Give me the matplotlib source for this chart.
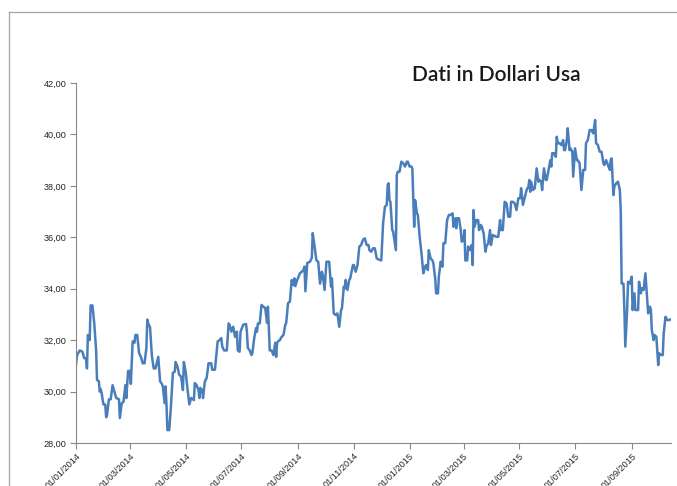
import matplotlib
matplotlib.use("Agg")
import matplotlib.pyplot as plt
import matplotlib.dates as mdates
from matplotlib.lines import Line2D
import numpy as np
import pandas as pd

start_date = "2014-01-01"
end_date = "2015-10-14"

# day offsets from 2014-01-01 and price in USD
days = [0, 1, 4, 7, 9, 11, 12, 13, 15, 16, 18, 20, 22, 23, 25, 26, 27, 28, 30, 32,
        33, 34, 36, 38, 40, 42, 44, 47, 48, 50, 52, 54, 55, 57, 59, 60, 62, 64, 65, 67,
        69, 71, 73, 75, 77, 78, 79, 81, 83, 85, 87, 89, 90, 92, 94, 95, 97, 98, 99, 100,
        102, 104, 106, 108, 109, 111, 113, 115, 117, 118, 120, 122, 124, 126, 128, 129, 130, 132, 134, 135,
        136, 138, 139, 141, 143, 145, 148, 149, 152, 155, 157, 159, 160, 162, 165, 167,
        168, 170, 172, 174, 176, 177, 179, 180, 183, 186, 187, 188, 190, 192, 193, 195, 197, 198, 199, 201,
        203, 205, 207, 209, 210, 212, 214, 216, 218, 219, 220, 221, 223, 225, 227, 229, 230, 232, 234, 236,
        238, 239, 240, 242, 245, 247, 249, 250, 251, 253, 256, 258, 259, 261, 263, 265, 267, 269, 270, 272,
        274, 277, 279, 280, 282, 284, 286, 288, 290, 291, 293, 294, 295, 297, 299, 300, 303, 304, 306, 308,
        310, 312, 314, 316, 318, 320, 321, 323, 325, 327, 329, 331, 334,
        336, 338, 340, 341, 342, 343, 344, 346, 347, 350, 351, 352, 354, 356, 358, 360, 362, 363, 365, 367,
        368, 370, 371, 373, 374, 376, 378, 380, 382, 383, 385, 386, 388, 390, 391, 393, 394, 396, 397, 399,
        401, 402, 404, 406, 408, 410, 412, 413, 415, 416, 417, 419, 421, 422, 424, 425, 426, 428, 429, 431,
        433, 434, 435, 436, 438, 440, 441, 443, 444, 446, 448, 449, 451, 453, 454, 456, 458, 460, 462, 464,
        465, 467, 469, 471, 473, 475, 476, 478, 480, 482, 484, 486, 487, 489,
        493, 495, 496, 497, 498, 500, 502, 504, 506, 507, 509, 510, 512, 514, 515, 517, 519, 520, 521, 523,
        525, 526, 527, 529, 531, 533, 534, 535, 537, 538, 540, 541, 543, 544, 546, 548, 549, 551, 553, 555,
        557, 558, 560, 562, 564, 566, 568, 569, 571, 573, 575, 577, 578, 580, 582, 584, 585, 586, 588, 589,
        591, 593, 595, 596, 597, 599, 600, 601, 603, 604, 606, 608, 609, 611, 612, 615, 616, 618, 619, 621,
        623, 624, 626, 628, 629, 630, 632, 633, 635, 637, 638, 640, 642, 643, 645, 647, 649, 650]

prices = [31.03, 31.40, 31.60, 31.55, 31.30, 31.30, 30.90, 32.20, 32.00, 33.35, 33.35, 32.65, 31.60, 30.45, 30.40, 30.00, 30.10, 29.95, 29.50, 29.50,
          29.00, 29.10, 29.70, 29.70, 30.25, 30.00, 29.75, 29.70, 28.97, 29.55, 29.60, 30.25, 29.75, 30.80, 30.80, 30.30, 31.95, 31.90, 32.20, 32.20,
          31.50, 31.35, 31.10, 31.10, 31.70, 32.80, 32.65, 32.50, 31.40, 30.90, 30.90, 31.20, 31.35, 30.40, 30.30, 30.20, 29.55, 30.20, 29.50, 28.50,
          28.50, 29.50, 30.73, 30.77, 31.15, 30.97, 30.65, 30.58, 30.06, 31.15, 30.77, 30.10, 29.50, 29.75, 29.70, 29.67, 30.33, 30.25, 30.06, 29.75,
          30.14, 30.06, 29.75, 30.40, 30.53, 31.10, 31.10, 30.85, 30.85, 31.95, 32.00, 32.08, 31.75, 31.60, 31.60, 32.65,
          32.60, 32.33, 32.52, 32.13, 32.33, 31.60, 31.55, 32.33, 32.60, 32.63, 32.33, 31.70, 31.60, 31.42, 31.50, 32.08, 32.47, 32.33, 32.65, 32.65,
          33.37, 33.30, 33.25, 32.67, 33.30, 31.60, 31.60, 31.42, 31.90, 31.35, 31.88, 31.95, 32.00, 32.13, 32.20, 32.60, 32.67, 33.44, 33.50, 34.34,
          34.14, 34.40, 34.10, 34.34, 34.60, 34.66, 34.73, 34.86, 33.90, 35.00, 35.05, 35.20, 36.16, 35.65, 35.10, 35.05, 34.20, 34.66, 34.53, 33.95,
          35.05, 35.05, 34.08, 34.40, 33.04, 32.98, 33.04, 32.52, 33.17, 33.24, 34.08, 34.00, 34.34, 33.95, 34.34, 34.40, 34.92, 34.92, 34.66, 34.92,
          35.64, 35.70, 35.90, 35.96, 35.70, 35.70, 35.50, 35.44, 35.57, 35.57, 35.18, 35.14, 35.10,
          36.54, 37.19, 37.26, 38.03, 38.10, 37.45, 37.38, 36.28, 36.22, 35.50, 38.42, 38.55, 38.55, 38.94, 38.88, 38.75, 38.94, 38.94, 38.75, 38.75,
          38.68, 36.41, 37.45, 36.93, 36.87, 36.02, 35.38, 34.60, 34.86, 34.92, 34.73, 35.50, 35.18, 35.10, 34.98, 34.40, 33.82, 33.82, 34.47, 35.05,
          34.86, 35.77, 35.77, 36.67, 36.87, 36.87, 36.93, 36.41, 36.74, 36.35, 36.74, 36.74, 36.28, 35.83, 35.90, 36.28, 35.10, 35.10, 35.64, 35.50,
          35.70, 34.92, 37.06, 36.41, 36.67, 36.67, 36.28, 36.48, 36.41, 36.15, 35.44, 35.64, 35.77, 36.28, 35.70, 36.09, 36.05, 36.02, 36.02, 36.67,
          36.28, 36.28, 37.38, 37.32, 36.80, 36.80, 37.38, 37.38, 37.32, 37.06, 37.52, 37.52, 37.91, 37.26,
          37.84, 37.97, 38.23, 37.77, 38.16, 37.84, 37.91, 38.68, 38.16, 38.23, 38.16, 37.84, 38.68, 38.23, 38.23, 38.62, 39.00, 38.75, 39.27, 39.27,
          39.13, 39.91, 39.66, 39.66, 39.59, 39.78, 39.39, 39.39, 39.78, 40.24, 39.39, 39.46, 39.33, 38.36, 39.46, 39.00, 39.00, 38.88, 37.84, 38.62,
          38.62, 39.66, 39.78, 40.17, 40.17, 40.04, 40.56, 39.66, 39.59, 39.33, 39.33, 38.88, 38.81, 39.00, 38.81, 38.62, 39.00, 39.07, 37.64, 37.97,
          38.10, 38.16, 37.84, 37.06, 34.20, 34.20, 33.17, 31.75, 33.17, 34.27, 34.20, 34.47, 33.17, 33.82, 33.17, 33.17, 34.27, 33.82, 34.02, 33.95,
          34.60, 34.08, 33.04, 33.30, 33.17, 32.40, 32.00, 32.20, 32.13, 31.03, 31.49, 31.42, 31.42, 32.26, 32.91, 32.78, 32.78, 32.80]

tick_dates = ["2014-01-01", "2014-03-01", "2014-05-01", "2014-07-01", "2014-09-01", "2014-11-01",
              "2015-01-01", "2015-03-01", "2015-05-01", "2015-07-01", "2015-09-01"]
y_ticks = [28, 30, 32, 34, 36, 38, 40, 42]
title = "Dati in Dollari Usa"

dates = pd.Timestamp(start_date) + pd.to_timedelta(days, unit="D")

fig = plt.figure(figsize=(6.77, 4.86), dpi=100)
ax = fig.add_axes([76 / 677, 43 / 486, 595 / 677, 360 / 486])

ax.plot(dates, prices, color="#4A7EBB", linewidth=1.8, solid_joinstyle="round")

ax.set_xlim(pd.Timestamp(start_date), pd.Timestamp(end_date))
ax.set_ylim(28, 42)

ax.set_yticks(y_ticks)
ax.set_yticklabels([f"{v:.2f}".replace(".", ",") for v in y_ticks],
                   fontsize=6.6, family="Liberation Sans")
tds = pd.to_datetime(tick_dates)
ax.set_xticks(tds)
ax.set_xticklabels([d.strftime("%d/%m/%Y") for d in tds], rotation=45, ha="right",
                   rotation_mode="anchor", fontsize=6.6, family="Liberation Sans")

for s in ["top", "right"]:
    ax.spines[s].set_visible(False)
for s in ["left", "bottom"]:
    ax.spines[s].set_color("#888888")
    ax.spines[s].set_linewidth(0.8)
ax.tick_params(axis="both", colors="#888888", length=4, width=0.8, labelcolor="#262626")
ax.tick_params(axis="y", pad=3)
ax.tick_params(axis="x", pad=2)

fig.text(496 / 677, 1 - 75 / 486, title, ha="center", va="center", fontsize=15,
         family="Lato", fontweight="semibold", color="#1a1a1a")

# outer chart frame (partially visible)
fig.add_artist(Line2D([9 / 677, 9 / 677], [0, 1 - 12 / 486], transform=fig.transFigure,
                      color="#A6A6A6", linewidth=0.9))
fig.add_artist(Line2D([9 / 677, 1], [1 - 12 / 486, 1 - 12 / 486], transform=fig.transFigure,
                      color="#A6A6A6", linewidth=0.9))

fig.savefig("out.png", dpi=100)
